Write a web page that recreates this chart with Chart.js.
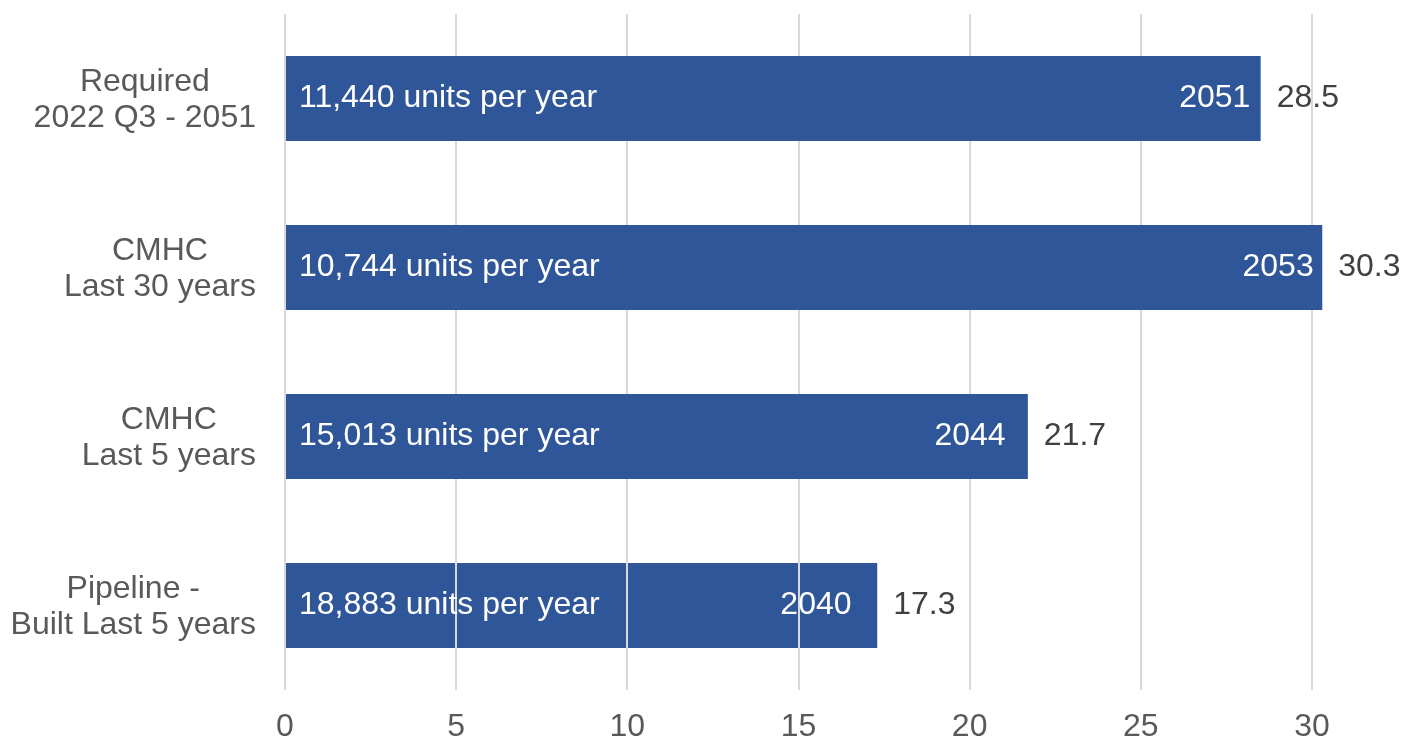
<!DOCTYPE html>
<html>
<head>
<meta charset="utf-8">
<script src="https://cdn.jsdelivr.net/npm/chart.js@4.4.1/dist/chart.umd.min.js"></script>
<style>
  html, body { margin: 0; padding: 0; background: #fff; }
  #wrap { width: 1404px; height: 741px; }
</style>
</head>
<body>
<div id="wrap"><canvas id="yearsChart"></canvas></div>
<script>
// Data
const categories = [
  ["Required", "2022 Q3 - 2051"],
  ["CMHC", "Last 30 years"],
  ["CMHC", "Last 5 years"],
  ["Pipeline -", "Built Last 5 years"]
];
const yearsNeeded = [28.5, 30.3, 21.7, 17.3];
const unitsPerYear = [11440, 10744, 15013, 18883];
const finishYear = [2051, 2053, 2044, 2040];
// where each finish-year label ends, in axis units
const finishLabelAt = [28.2, 30.05, 21.05, 16.55];
const xTicks = [0, 5, 10, 15, 20, 25, 30];

const FONT = "'Liberation Sans', Arial, sans-serif";
const BAR = "#30569a";
const GRID = "#d9d9d9";

// Labels drawn on and beside the bars, plus the two-line category labels
const barLabels = {
  id: "barLabels",
  afterDatasetsDraw(chart) {
    const { ctx, scales: { x, y } } = chart;
    const meta = chart.getDatasetMeta(0);
    ctx.save();

    // grid lines show through the last bar
    const last = meta.data[meta.data.length - 1];
    const half = last.height / 2;
    ctx.save();
    ctx.beginPath();
    ctx.rect(last.base, last.y - half, last.x - last.base, last.height);
    ctx.clip();
    ctx.strokeStyle = GRID;
    ctx.lineWidth = 2;
    xTicks.forEach(t => {
      const px = Math.round(x.getPixelForValue(t));
      ctx.beginPath();
      ctx.moveTo(px, last.y - half);
      ctx.lineTo(px, last.y + half);
      ctx.stroke();
    });
    ctx.restore();

    ctx.font = "32px " + FONT;
    ctx.textBaseline = "middle";
    meta.data.forEach((bar, i) => {
      ctx.fillStyle = "#ffffff";
      ctx.textAlign = "left";
      ctx.fillText(unitsPerYear[i].toLocaleString("en-US") + " units per year", bar.base + 13, bar.y);

      ctx.textAlign = "right";
      ctx.fillText(String(finishYear[i]), x.getPixelForValue(finishLabelAt[i]), bar.y);

      ctx.fillStyle = "#404040";
      ctx.textAlign = "left";
      ctx.fillText(yearsNeeded[i].toFixed(1), bar.x + 16, bar.y);
    });

    // category labels: block right-aligned, lines centred inside it
    ctx.fillStyle = "#595959";
    ctx.textAlign = "center";
    const right = chart.chartArea.left - 29;
    categories.forEach((lines, i) => {
      const cy = y.getPixelForValue(i) + 2;
      const w = Math.max(...lines.map(l => ctx.measureText(l).width));
      const lh = 36;
      const top = cy - (lines.length - 1) * lh / 2;
      lines.forEach((l, k) => ctx.fillText(l, right - w / 2, top + k * lh));
    });
    ctx.restore();
  }
};

new Chart(document.getElementById("yearsChart"), {
  type: "bar",
  data: {
    labels: categories,
    datasets: [{
      data: yearsNeeded,
      backgroundColor: BAR,
      borderWidth: 0,
      barPercentage: 0.503,
      categoryPercentage: 1,
      clip: false
    }]
  },
  options: {
    indexAxis: "y",
    responsive: true,
    maintainAspectRatio: false,
    animation: false,
    layout: { padding: { left: 285, right: 92, top: 14, bottom: 0 } },
    plugins: {
      legend: { display: false },
      tooltip: { enabled: false }
    },
    scales: {
      y: { display: false },
      x: {
        min: 0,
        max: 30,
        afterBuildTicks: axis => { axis.ticks = xTicks.map(v => ({ value: v })); },
        afterFit: axis => { axis.height = 51; },
        grid: { color: GRID, lineWidth: 2, drawTicks: false },
        border: { display: false },
        ticks: {
          color: "#595959",
          padding: 18,
          font: { family: FONT, size: 32 }
        }
      }
    }
  },
  plugins: [barLabels]
});
</script>
</body>
</html>
